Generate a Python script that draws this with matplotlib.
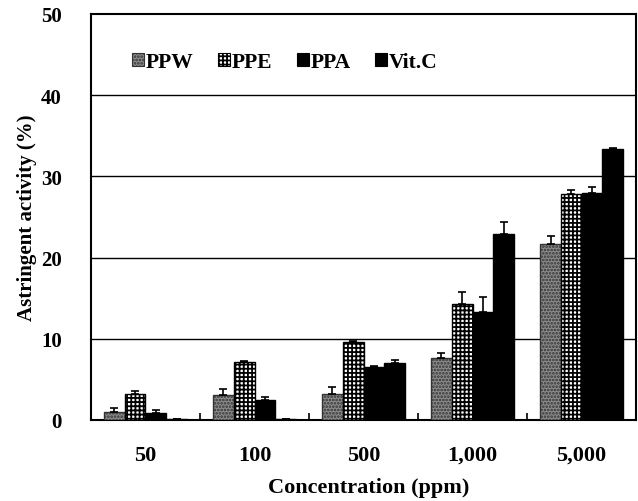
import numpy as np
import matplotlib
matplotlib.use('Agg')
import matplotlib.pyplot as plt
from matplotlib.patches import Patch

# data
concentrations = ['50', '100', '500', '1,000', '5,000']
ppw = [1.0, 3.1, 3.2, 7.6, 21.7]
ppe = [3.25, 7.15, 9.6, 14.3, 27.8]
ppa = [0.9, 2.4, 6.5, 13.35, 28.0]
vitc = [0.1, 0.15, 7.0, 22.9, 33.4]
ppw_err = [0.5, 0.7, 0.9, 0.6, 1.0]
ppe_err = [0.35, 0.1, 0.1, 1.4, 0.5]
ppa_err = [0.3, 0.45, 0.1, 1.75, 0.75]
vitc_err = [0.0, 0.0, 0.35, 1.5, 0.1]

plt.rcParams['font.family'] = ['Liberation Serif', 'DejaVu Serif']
plt.rcParams['font.weight'] = 'bold'
plt.rcParams['hatch.linewidth'] = 1.3

fig = plt.figure(figsize=(6.38, 5.02), dpi=100)
ax = fig.add_axes([0.1426, 0.1614, 0.8544, 0.8088])

x = np.arange(len(concentrations))
w = 0.19
series = [
    ('PPW', ppw, ppw_err, dict(facecolor='#8c8c8c', hatch='.....', edgecolor='#333333')),
    ('PPE', ppe, ppe_err, dict(facecolor='white', hatch='++++', edgecolor='black')),
    ('PPA', ppa, ppa_err, dict(facecolor='black', edgecolor='black')),
    ('Vit.C', vitc, vitc_err, dict(facecolor='black', edgecolor='black')),
]

handles = []
for i, (name, vals, err, style) in enumerate(series):
    pos = x + (i - 1.5) * w
    ax.bar(pos, vals, width=w, linewidth=1.0, zorder=3, **style)
    ax.errorbar(pos, vals, yerr=[np.zeros(len(err)), err], fmt='none',
                ecolor='black', elinewidth=1.2, capsize=3, capthick=1.2, zorder=4)
    handles.append(Patch(label=name, linewidth=0.8, **style))

ax.set_xlim(-0.5, len(concentrations) - 0.5)
ax.set_ylim(0, 50)
ax.set_yticks([0, 10, 20, 30, 40, 50])
ax.set_xticks(x)
ax.set_xticklabels(concentrations)
ax.set_xticks(np.arange(0.5, len(concentrations) - 0.5, 1), minor=True)
ax.tick_params(axis='x', which='major', length=0, pad=18, labelsize=16)
ax.tick_params(axis='x', which='minor', direction='in', length=5, width=1.2)
ax.tick_params(axis='y', direction='in', length=0, pad=21, labelsize=15)
for lab in ax.get_xticklabels() + ax.get_yticklabels():
    lab.set_fontweight('bold')

for v in [10, 20, 30, 40]:
    ax.axhline(v, color='black', linewidth=1.0, zorder=1)

for s in ax.spines.values():
    s.set_linewidth(1.5)

ax.set_xlabel('Concentration (ppm)', fontsize=16, fontweight='bold')
ax.xaxis.set_label_coords(0.51, -0.14)
ax.set_ylabel('Astringent activity (%)', fontsize=15, fontweight='bold', labelpad=3)

leg = ax.legend(handles=handles, ncol=4, loc='center left',
                bbox_to_anchor=(0.075, 0.882), frameon=False, borderpad=0,
                borderaxespad=0, handlelength=0.55, handleheight=0.55,
                handletextpad=0.08, columnspacing=1.15,
                prop={'weight': 'bold', 'size': 15.5})

fig.savefig('out.png', dpi=100)
